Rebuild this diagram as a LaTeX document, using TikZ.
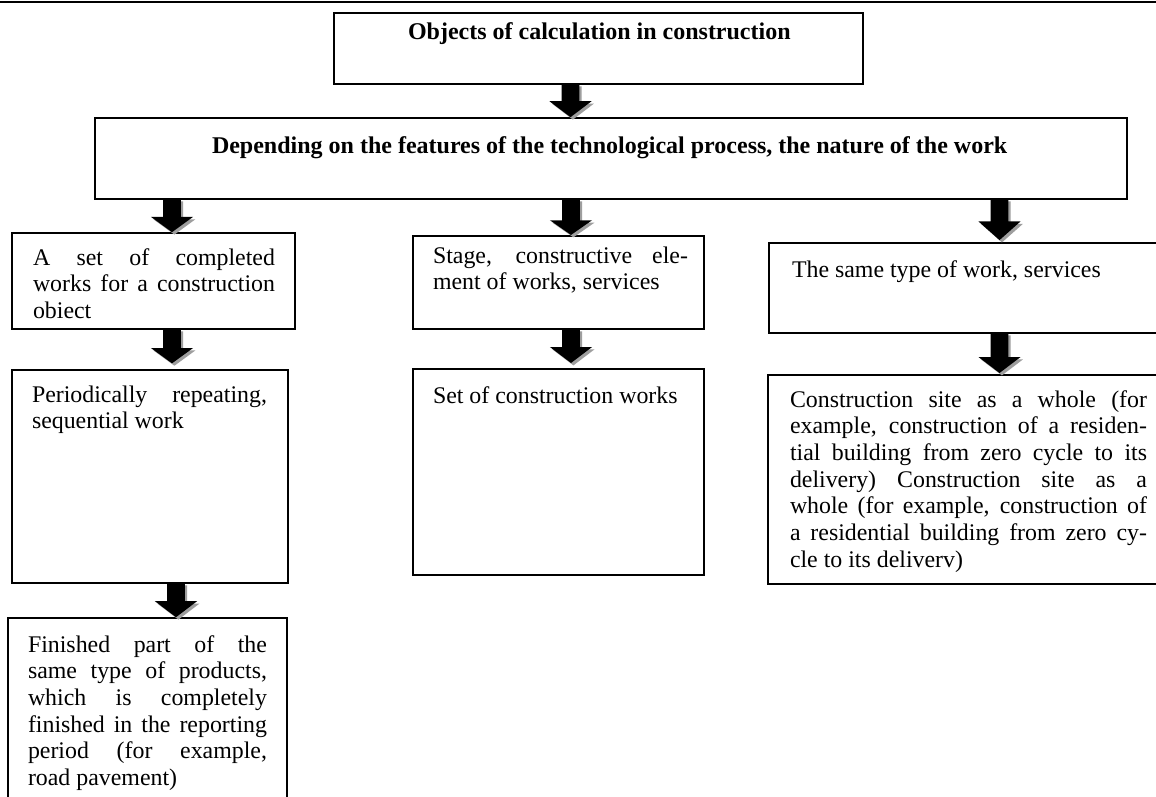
\documentclass[tikz,border=0pt]{standalone}
\usepackage{fontspec}
\setmainfont{Liberation Serif}
\usetikzlibrary{calc}
\definecolor{arrshadow}{gray}{0.62}
\tolerance=9999
\emergencystretch=3em
\hyphenpenalty=10000
\exhyphenpenalty=10000
\tikzset{
  boxnode/.style={draw=black, line width=1.4pt, rectangle, anchor=north west, inner sep=0pt, outer sep=0pt, fill=white},
  txt/.style={inner sep=0pt, outer sep=0pt, anchor=base west, font=\fontsize{17.9}{20}\selectfont},
  jtxt/.style={txt, align=justify},
  btxt/.style={inner sep=0pt, outer sep=0pt, anchor=base west, font=\fontsize{18}{20}\selectfont\bfseries},
  rule/.style={line width=1.1pt, draw=black}
}
% box: name, x, y, width, height (pixels)
\newcommand\boxat[5]{\node[boxnode, minimum width={#4*0.75pt}, minimum height={#5*0.75pt}] (#1) at (#2,#3) {};}
% block arrow: x centre, from anchor, to anchor, gap (pt) above target, head length (pt)
\newcommand\blockarr[5]{%
  \foreach \dx/\dy/\col in {1.8pt/1.8pt/arrshadow, 0pt/0pt/black}{%
    \fill[\col] let \p1=(#1,0 |- #2), \p2=(#1,0 |- #3) in
      ({\x1-6.6pt+\dx},{\y1-\dy}) --
      ({\x1+6.6pt+\dx},{\y1-\dy}) --
      ({\x1+6.6pt+\dx},{\y2+#4+#5-\dy}) --
      ({\x1+15.8pt+\dx},{\y2+#4+#5-\dy}) --
      ({\x1+\dx},{\y2+#4-\dy}) --
      ({\x1-15.8pt+\dx},{\y2+#4+#5-\dy}) --
      ({\x1-6.6pt+\dx},{\y2+#4+#5-\dy}) -- cycle;
  }%
}
\begin{document}
\begin{tikzpicture}[x=0.75pt,y=-0.75pt]
\useasboundingbox (0,0) rectangle (1156,796);
\fill[white] (0,0) rectangle (1156,796);
\draw[rule] (0,2) -- (1156,2);

% boxes
\boxat{top}{334}{13}{529}{71}
\boxat{dep}{95}{118}{1032}{81}
\boxat{A}{12}{233}{283}{96}
\boxat{P}{12}{370}{276}{213}
\boxat{F}{8}{618}{279}{210}
\boxat{S}{413}{236}{291}{93}
\boxat{St}{413}{369}{291}{206}
\boxat{T}{769}{243}{410}{90}
\boxat{C}{768}{375}{410}{209}

% texts
\node[btxt] (ttop) at ([shift={(74,26)}]top.north west) {Objects of calculation in construction};
\node[btxt] (tdep) at ([shift={(117,35)}]dep.north west) {Depending on the features of the technological process, the nature of the work};
\node[jtxt, text width={242*0.75pt}] (tA) at ([shift={(21,32)}]A.north west) {A set of completed\linebreak works for a construction\linebreak obiect};
\node[jtxt, text width={235*0.75pt}] (tP) at ([shift={(20,32)}]P.north west) {Periodically repeating,\linebreak sequential work};
\node[jtxt, text width={239*0.75pt}] (tF) at ([shift={(20,34)}]F.north west) {Finished part of the\linebreak same type of products,\linebreak which is completely\linebreak finished in the reporting\linebreak period (for example,\linebreak road pavement)};
\node[jtxt, text width={255*0.75pt}] (tS) at ([shift={(20,27)}]S.north west) {Stage, constructive ele-\linebreak ment of works, services};
\node[txt] (tSt) at ([shift={(20,34)}]St.north west) {Set of construction works};
\node[txt] (tT) at ([shift={(23,34)}]T.north west) {The same type of work, services};
\node[jtxt, text width={357*0.75pt}] (tC) at ([shift={(22,32)}]C.north west) {Construction site as a whole (for\linebreak example, construction of a residen-\linebreak tial building from zero cycle to its\linebreak delivery) Construction site as a\linebreak whole (for example, construction of\linebreak a residential building from zero cy-\linebreak cle to its deliverv)};

% arrows
\blockarr{570.5}{top.south}{dep.north}{0.6pt}{12pt}
\blockarr{172}{dep.south}{A.north}{0.6pt}{11.5pt}
\blockarr{172}{A.south}{P.north}{5pt}{11.5pt}
\blockarr{176}{P.south}{F.north}{0.6pt}{12pt}
\blockarr{571}{dep.south}{S.north}{0.8pt}{11pt}
\blockarr{571}{S.south}{St.north}{4.5pt}{12pt}
\blockarr{999.5}{dep.south}{T.north}{2.2pt}{14pt}
\blockarr{999.5}{T.south}{C.north}{1.5pt}{12pt}
\end{tikzpicture}
\end{document}
